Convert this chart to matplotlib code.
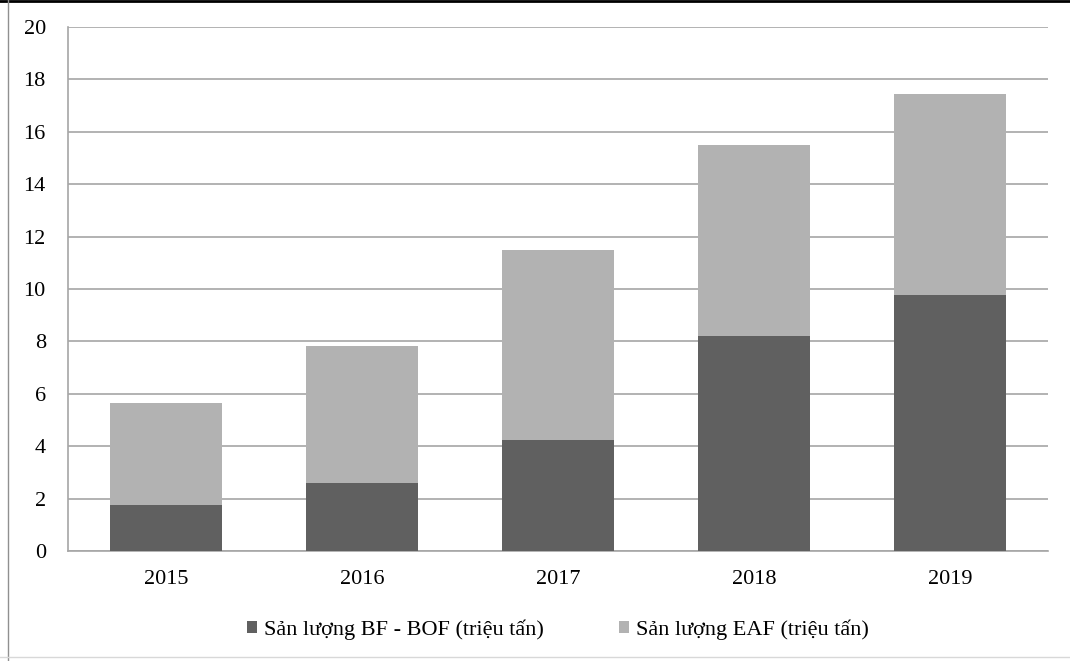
import matplotlib.pyplot as plt
from matplotlib.lines import Line2D

# Sản lượng thép theo năm (triệu tấn)
years = ["2015", "2016", "2017", "2018", "2019"]
bf_bof = [1.75, 2.61, 4.23, 8.19, 9.77]
eaf = [3.89, 5.22, 7.25, 7.29, 7.69]
labels = ["Sản lượng BF - BOF (triệu tấn)", "Sản lượng EAF (triệu tấn)"]

plt.rcParams['font.family'] = ['Liberation Serif', 'DejaVu Serif']

fig = plt.figure(figsize=(10.7, 6.61), dpi=100)
ax = fig.add_axes([0.0636, 0.1664, 0.9158, 0.7928])

x = range(len(years))
ax.bar(x, bf_bof, width=0.57, color="#606060", label=labels[0], zorder=3)
ax.bar(x, eaf, width=0.57, bottom=bf_bof, color="#b2b2b2", label=labels[1], zorder=3)

ax.set_xlim(-0.5, len(years) - 0.5)
ax.set_ylim(0, 20)
ax.set_yticks(range(0, 21, 2))
ax.set_xticks(list(x))
ax.set_xticklabels(years)
ax.yaxis.grid(True, color="#a6a6a6", linewidth=1.2, zorder=0)
ax.tick_params(axis="both", length=0, labelsize=16, colors="black")
ax.tick_params(axis="x", pad=14)
ax.tick_params(axis="y", pad=16)

for side in ["top", "right"]:
    ax.spines[side].set_visible(False)
ax.spines["left"].set_color("#a6a6a6")
ax.spines["bottom"].set_color("#a6a6a6")
ax.spines["left"].set_linewidth(1.2)
ax.spines["bottom"].set_linewidth(1.2)

ax.legend(loc="upper center", bbox_to_anchor=(0.5, -0.093), ncol=2, frameon=False,
          fontsize=16, handlelength=0.45, handleheight=0.45, handletextpad=0.3,
          columnspacing=3.4)

# khung viền quanh hình
fig.add_artist(Line2D([0, 1], [0.998, 0.998], transform=fig.transFigure, color="black", linewidth=2))
fig.add_artist(Line2D([0.0075, 0.0075], [0, 1], transform=fig.transFigure, color="#909090", linewidth=1))
fig.add_artist(Line2D([0, 1], [0.006, 0.006], transform=fig.transFigure, color="#d8d8d8", linewidth=1))

fig.savefig("out.png", dpi=100)
